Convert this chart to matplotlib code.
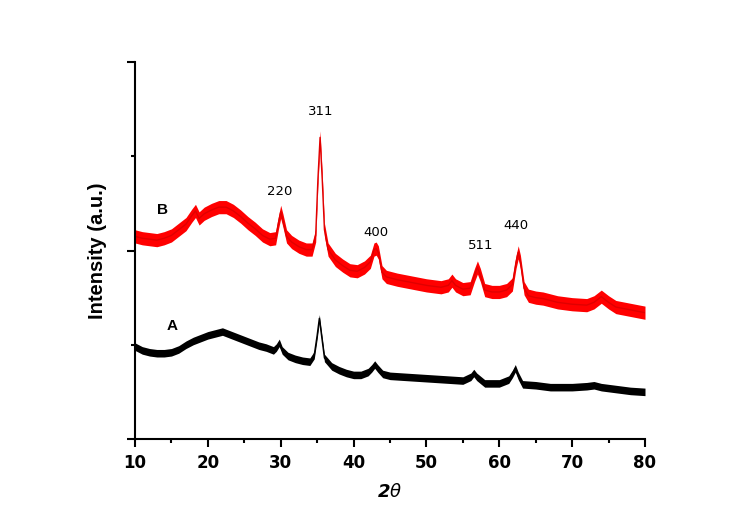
import matplotlib
matplotlib.use("Agg")
import matplotlib.pyplot as plt
from matplotlib.ticker import MultipleLocator, NullFormatter

# ---- data (arbitrary intensity units) ----
two_theta_B = [10.0, 11.0, 12.0, 13.0, 14.0, 15.0, 16.0, 17.0, 17.8, 18.3, 18.8, 19.5,
               20.5, 21.5, 22.5, 23.5, 24.5, 25.5, 26.5, 27.5, 28.5, 29.3, 29.7, 30.0,
               30.3, 30.8, 31.5, 32.5, 33.5, 34.3, 34.8, 35.1, 35.4, 35.7, 36.0, 36.5,
               37.5, 38.5, 39.5, 40.5, 41.5, 42.3, 42.8, 43.1, 43.4, 43.9, 44.5, 46.0,
               48.0, 50.0, 52.0, 53.0, 53.5, 54.0, 55.0, 56.0, 56.6, 57.0, 57.4, 58.0,
               59.0, 60.0, 61.0, 61.8, 62.3, 62.6, 62.9, 63.4, 64.0, 65.0, 66.0, 68.0,
               70.0, 72.0, 73.0, 74.0, 75.0, 76.0, 78.0, 80.0]
intensity_B = [215, 213, 212, 211, 213, 216, 222, 228, 237, 242, 234, 239,
               243, 246, 246, 242, 236, 229, 223, 216, 212, 213, 230, 241,
               232, 215, 209, 204, 201, 201, 216, 275, 320, 275, 222, 201,
               190, 184, 179, 178, 182, 188, 201, 202, 198, 177, 172, 169,
               166, 163, 161, 163, 168, 163, 159, 160, 174, 182, 174, 158,
               156, 156, 158, 164, 188, 198, 188, 160, 152, 150, 149, 145,
               143, 142, 145, 151, 145, 140, 137, 134]

two_theta_A = [10.0, 11.0, 12.0, 13.0, 14.0, 15.0, 16.0, 17.0, 18.0, 19.0, 20.0, 21.0,
               22.0, 23.0, 24.0, 25.0, 26.0, 27.0, 28.0, 29.0, 29.4, 29.8, 30.2, 31.0,
               32.0, 33.0, 34.0, 34.6, 35.0, 35.3, 35.6, 36.0, 37.0, 38.0, 39.0, 40.0,
               41.0, 42.0, 42.5, 42.9, 43.3, 44.0, 45.0, 47.0, 49.0, 51.0, 53.0, 55.0,
               56.1, 56.5, 56.9, 58.0, 60.0, 61.3, 61.8, 62.2, 62.6, 63.2, 65.0, 67.0,
               70.0, 72.0, 73.0, 74.0, 76.0, 78.0, 80.0]
intensity_A = [98, 94, 92, 91, 91, 92, 95, 100, 104, 107, 110, 112,
               114, 111, 108, 105, 102, 99, 97, 94, 97, 102, 94, 88,
               85, 83, 82, 89, 110, 128, 110, 86, 77, 73, 70, 68,
               68, 71, 75, 79, 75, 69, 67, 66, 65, 64, 63, 62,
               66, 70, 66, 59, 59, 63, 69, 75, 67, 58, 57, 55,
               55, 56, 57, 55, 53, 51, 50]

peak_labels = ["220", "311", "400", "511", "440"]
peak_label_x = [29.9, 35.5, 43.1, 57.5, 62.3]
peak_label_y = [263, 347, 219, 205, 226]

series_names = ["B", "A"]
series_name_x = [13.8, 15.1]
series_name_y = [243, 120]

# ---- figure ----
fig = plt.figure(figsize=(7.53, 5.31), dpi=100)
ax = fig.add_axes([135 / 753, 1 - 439 / 531, 510 / 753, 377 / 531])

hw_B, hw_A = 7.0, 4.0
ax.fill_between(two_theta_B, [v - hw_B for v in intensity_B], [v + hw_B for v in intensity_B],
                color="#ff0000", linewidth=0)
ax.plot(two_theta_B, intensity_B, color="#e00000", lw=1.0)
ax.fill_between(two_theta_A, [v - hw_A for v in intensity_A], [v + hw_A for v in intensity_A],
                color="black", linewidth=0)
ax.plot(two_theta_A, intensity_A, color="black", lw=1.0)

for lab, x, y in zip(peak_labels, peak_label_x, peak_label_y):
    ax.text(x, y, lab, ha="center", va="center", fontsize=9.5, family="DejaVu Sans")
for lab, x, y in zip(series_names, series_name_x, series_name_y):
    ax.text(x, y, lab, ha="center", va="center", fontsize=11, fontweight="bold",
            family="Liberation Sans")

ax.set_xlim(10, 80)
ax.set_ylim(0, 400)
ax.xaxis.set_major_locator(MultipleLocator(10))
ax.xaxis.set_minor_locator(MultipleLocator(5))
ax.yaxis.set_major_locator(MultipleLocator(200))
ax.yaxis.set_minor_locator(MultipleLocator(100))
ax.yaxis.set_major_formatter(NullFormatter())

for s in ["top", "right"]:
    ax.spines[s].set_visible(False)
for s in ["left", "bottom"]:
    ax.spines[s].set_linewidth(1.5)

ax.tick_params(axis="both", which="major", direction="out", length=6, width=1.5)
ax.tick_params(axis="both", which="minor", direction="out", length=3, width=1.5)
ax.tick_params(axis="x", which="major", pad=5)
for t in ax.get_xticklabels():
    t.set_fontweight("bold")
    t.set_fontsize(12)
    t.set_family("DejaVu Sans")

ax.set_ylabel("Intensity (a.u.)", fontsize=14.5, fontweight="bold", family="Liberation Sans",
              labelpad=11)
ax.set_xlabel(r"2$\theta$", fontsize=13, fontweight="bold", style="italic", labelpad=8)

fig.savefig("out.png", dpi=100)
